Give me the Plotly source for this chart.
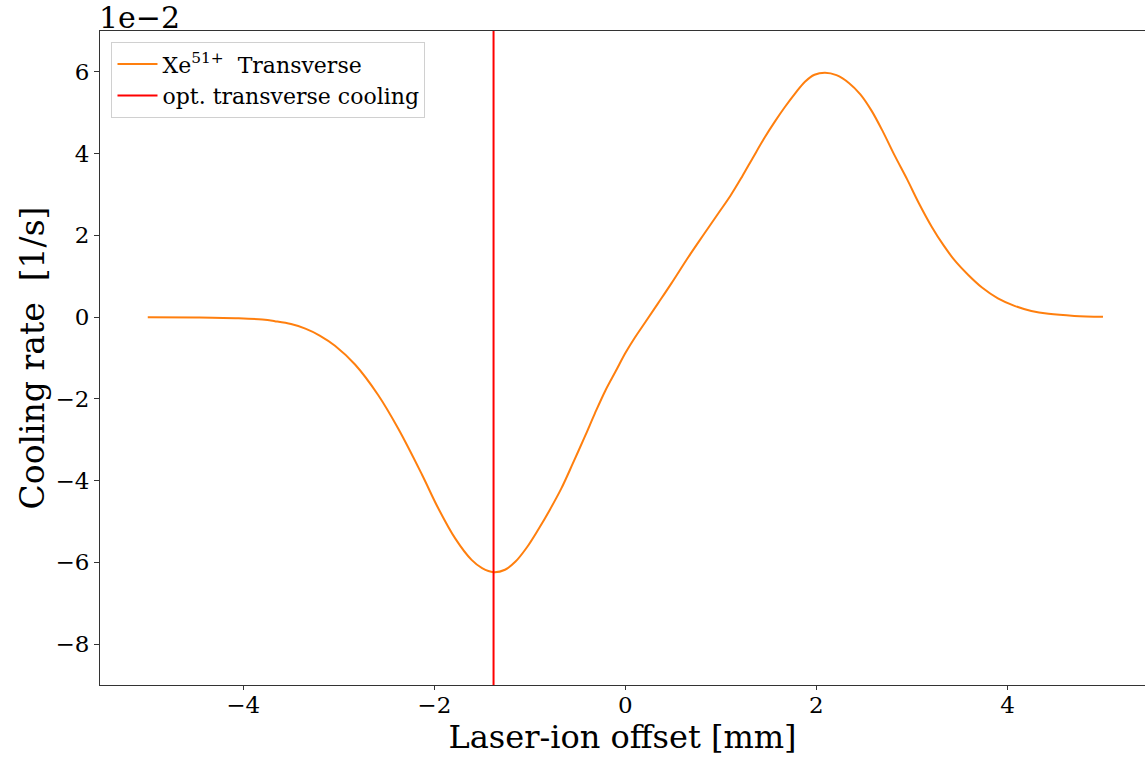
import plotly.graph_objects as go

# Data (cooling rate in 1/s)
offset_mm = [-5.0, -4.5, -4.05, -3.80, -3.67, -3.50, -3.35, -3.20, -3.04, -2.83, -2.59, -2.38,
             -2.13, -1.96, -1.78, -1.61, -1.50, -1.38, -1.26, -1.15, -1.03, -0.91, -0.79,
             -0.67, -0.55, -0.42, -0.32, -0.21, -0.10, 0.0, 0.10, 0.21, 0.34, 0.48, 0.66,
             0.82, 0.97, 1.10, 1.22, 1.34, 1.46, 1.57, 1.67, 1.78, 1.88, 1.98, 2.09, 2.21,
             2.34, 2.46, 2.58, 2.70, 2.82, 2.95, 3.07, 3.21, 3.33, 3.45, 3.59, 3.73, 3.90,
             4.08, 4.25, 4.43, 4.70, 5.0]
cooling_rate = [0.0, -0.0001, -0.0003, -0.0006, -0.0010, -0.0017, -0.0028, -0.0045, -0.0070,
                -0.0116, -0.0190, -0.0272, -0.0385, -0.0467, -0.0542, -0.0594, -0.0614,
                -0.0624, -0.0618, -0.0598, -0.0563, -0.0519, -0.0471, -0.0419, -0.0358,
                -0.0290, -0.0236, -0.0180, -0.0132, -0.0088, -0.0050, -0.0012, 0.0033,
                0.0082, 0.0147, 0.0202, 0.0253, 0.0297, 0.0343, 0.0392, 0.0440, 0.0480,
                0.0514, 0.0548, 0.0576, 0.0593, 0.0598, 0.0592, 0.0573, 0.0545, 0.0504,
                0.0452, 0.0395, 0.0337, 0.0280, 0.0220, 0.0176, 0.0138, 0.0103, 0.0073,
                0.0046, 0.0027, 0.0015, 0.0008, 0.0003, 0.0001]
opt_offset = -1.38

y_tickvals = [-0.08, -0.06, -0.04, -0.02, 0.0, 0.02, 0.04, 0.06]
y_ticktext = ["\u22128", "\u22126", "\u22124", "\u22122", "0", "2", "4", "6"]
x_tickvals = [-4, -2, 0, 2, 4]
x_ticktext = ["\u22124", "\u22122", "0", "2", "4"]
y_range = [-0.09, 0.07]
x_range = [-5.5, 5.44]

FONT = "DejaVu Serif"

fig = go.Figure()
fig.add_trace(go.Scatter(
    x=offset_mm, y=cooling_rate, mode="lines",
    line=dict(color="#ff7f0e", width=2, shape="spline", smoothing=1.0),
    name="Xe<sup>51+</sup>  Transverse"))
fig.add_trace(go.Scatter(
    x=[opt_offset, opt_offset], y=y_range, mode="lines",
    line=dict(color="#ff0000", width=2),
    name="opt. transverse cooling"))

fig.update_layout(
    width=1145, height=757,
    margin=dict(l=100, r=0, t=31, b=72),
    paper_bgcolor="white", plot_bgcolor="white",
    font=dict(family=FONT, color="black", size=22),
    showlegend=True,
    legend=dict(x=0.011, y=0.983, xanchor="left", yanchor="top",
                bgcolor="rgba(255,255,255,0.8)", bordercolor="#d0d0d0", borderwidth=1,
                font=dict(family=FONT, size=22), tracegroupgap=0,
                itemwidth=40),
)
fig.update_xaxes(
    range=x_range, tickvals=x_tickvals, ticktext=x_ticktext,
    showgrid=False, zeroline=False,
    showline=True, mirror=True, linecolor="#333333", linewidth=1,
    ticks="outside", ticklen=4, tickcolor="#333333",
    tickfont=dict(family=FONT, size=23), ticklabelstandoff=-5,
    title=dict(text="Laser-ion offset [mm]", font=dict(family=FONT, size=32), standoff=8),
)
fig.update_yaxes(
    range=y_range, tickvals=y_tickvals, ticktext=y_ticktext,
    showgrid=False, zeroline=False,
    showline=True, mirror=False, linecolor="#333333", linewidth=1,
    ticks="outside", ticklen=5, tickcolor="#333333",
    tickfont=dict(family=FONT, size=23),
    title=dict(text="Cooling rate  [1/s]", font=dict(family=FONT, size=33), standoff=0),
)
fig.add_annotation(text="1e\u22122", xref="paper", yref="paper", x=0, y=1,
                   xanchor="left", yanchor="bottom", showarrow=False,
                   font=dict(family=FONT, size=30), xshift=-3, yshift=-6)

fig.write_html("out.html")
